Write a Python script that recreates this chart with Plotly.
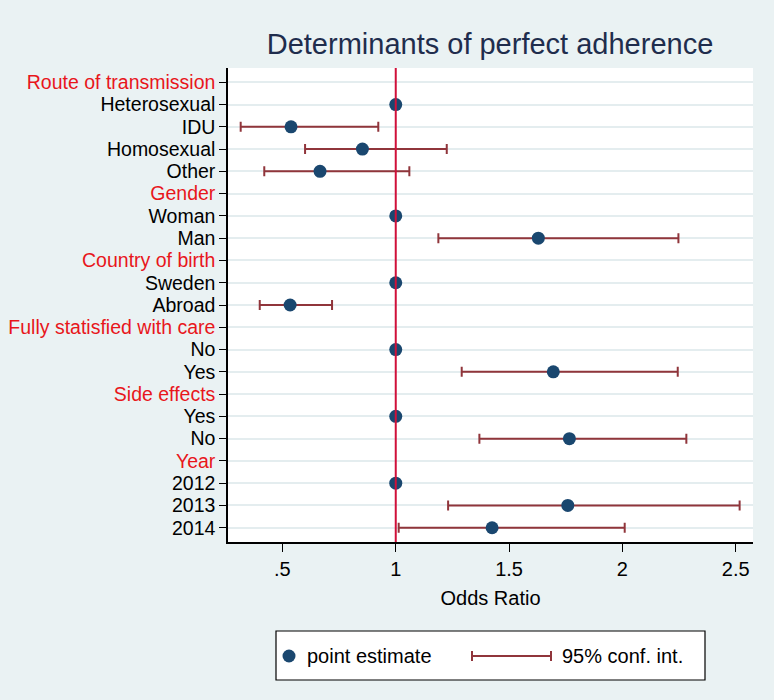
import plotly.graph_objects as go

# ---- data ----
labels = ["Route of transmission", "Heterosexual", "IDU", "Homosexual", "Other",
          "Gender", "Woman", "Man",
          "Country of birth", "Sweden", "Abroad",
          "Fully statisfied with care", "No", "Yes",
          "Side effects", "Yes", "No",
          "Year", "2012", "2013", "2014"]
is_header = [True, False, False, False, False,
             True, False, False,
             True, False, False,
             True, False, False,
             True, False, False,
             True, False, False, False]
odds_ratio = [None, 1.0, 0.538, 0.853, 0.666,
              None, 1.0, 1.629,
              None, 1.0, 0.534,
              None, 1.0, 1.695,
              None, 1.0, 1.766,
              None, 1.0, 1.759, 1.425]
ci_low = [None, None, 0.316, 0.600, 0.420,
          None, None, 1.188,
          None, None, 0.400,
          None, None, 1.291,
          None, None, 1.369,
          None, None, 1.231, 1.013]
ci_high = [None, None, 0.923, 1.225, 1.060,
           None, None, 2.247,
           None, None, 0.719,
           None, None, 2.244,
           None, None, 2.282,
           None, None, 2.517, 2.010]
x_ticks = [0.5, 1, 1.5, 2, 2.5]
x_ticktext = [".5", "1", "1.5", "2", "2.5"]

BG = "#EAF2F3"
NAVY = "#1A476F"
MAROON = "#90353B"
RED = "#D0103A"
FONT = "Liberation Sans, Arial, sans-serif"

rows = list(range(len(labels)))
ci_idx = [i for i in rows if ci_low[i] is not None]
pt_idx = [i for i in rows if odds_ratio[i] is not None]

fig = go.Figure()

# confidence intervals via error bars
fig.add_trace(go.Scatter(
    x=[odds_ratio[i] for i in ci_idx],
    y=[i for i in ci_idx],
    mode="markers",
    marker=dict(size=1, color="rgba(0,0,0,0)"),
    error_x=dict(type="data", symmetric=False,
                 array=[ci_high[i] - odds_ratio[i] for i in ci_idx],
                 arrayminus=[odds_ratio[i] - ci_low[i] for i in ci_idx],
                 color=MAROON, thickness=2, width=5),
    showlegend=False, hoverinfo="skip",
))

# point estimates
fig.add_trace(go.Scatter(
    x=[odds_ratio[i] for i in pt_idx],
    y=[i for i in pt_idx],
    mode="markers",
    marker=dict(size=13, color=NAVY, line=dict(width=0)),
    showlegend=False,
))

# reference line at OR = 1
fig.add_shape(type="line", xref="x", yref="paper", x0=1, x1=1, y0=0, y1=1,
              line=dict(color=RED, width=2), layer="above")

ticktext = [f"<span style='color:{'#E8161B' if h else '#000000'}'>{l}</span>"
            for l, h in zip(labels, is_header)]

fig.update_layout(
    width=774, height=700,
    paper_bgcolor=BG, plot_bgcolor="white",
    margin=dict(l=228, r=21, t=68, b=158),
    font=dict(family=FONT, size=20, color="black"),
    title=dict(text="Determinants of perfect adherence", x=490 / 774, xanchor="center",
               y=1 - 44 / 700, yanchor="middle", yref="container",
               font=dict(size=29, color="#1F2D4D", family=FONT)),
    showlegend=False,
)

fig.update_yaxes(
    range=[20.64, -0.64], tickmode="array", tickvals=rows, ticktext=ticktext,
    showgrid=True, gridcolor="#E4EDEF", gridwidth=1.5,
    showline=True, linecolor="black", linewidth=1.5,
    ticks="outside", ticklen=7, tickcolor="black", tickwidth=1.2,
    tickfont=dict(size=19.5), zeroline=False, fixedrange=True, automargin=False,
)
fig.update_xaxes(
    range=[0.260, 2.576], tickmode="array", tickvals=x_ticks, ticktext=x_ticktext,
    showgrid=False, zeroline=False,
    showline=True, linecolor="black", linewidth=1.5,
    ticks="outside", ticklen=8, tickcolor="black", tickwidth=1.2,
    tickfont=dict(size=20), automargin=False,
    title=dict(text="Odds Ratio", font=dict(size=20), standoff=12),
)

# ---- manual legend ----
def px_x(p):
    return (p - 228) / 525.0

def px_y(p):
    return (542 - p) / 474.0

fig.add_shape(type="rect", xref="paper", yref="paper",
              x0=px_x(276), x1=px_x(705), y0=px_y(680), y1=px_y(631),
              fillcolor="white", line=dict(color="black", width=1.2), layer="below")
fig.add_shape(type="circle", xref="paper", yref="paper",
              xsizemode="pixel", ysizemode="pixel",
              xanchor=px_x(289), yanchor=px_y(656),
              x0=-6.5, x1=6.5, y0=-6.5, y1=6.5,
              fillcolor=NAVY, line=dict(width=0))
fig.add_shape(type="line", xref="paper", yref="paper",
              x0=px_x(472), x1=px_x(551), y0=px_y(656), y1=px_y(656),
              line=dict(color=MAROON, width=2))
for cx in (472, 551):
    fig.add_shape(type="line", xref="paper", yref="paper",
                  x0=px_x(cx), x1=px_x(cx), y0=px_y(651), y1=px_y(661),
                  line=dict(color=MAROON, width=2))
fig.add_annotation(xref="paper", yref="paper", x=px_x(305), y=px_y(656),
                   text="point estimate", showarrow=False, xanchor="left", yanchor="middle",
                   font=dict(size=20, color="black"))
fig.add_annotation(xref="paper", yref="paper", x=px_x(560), y=px_y(656),
                   text="95% conf. int.", showarrow=False, xanchor="left", yanchor="middle",
                   font=dict(size=20, color="black"))

fig.write_html("out.html", config={"displayModeBar": False},
               post_script="document.body.style.margin='0';document.body.style.overflow='hidden';")
